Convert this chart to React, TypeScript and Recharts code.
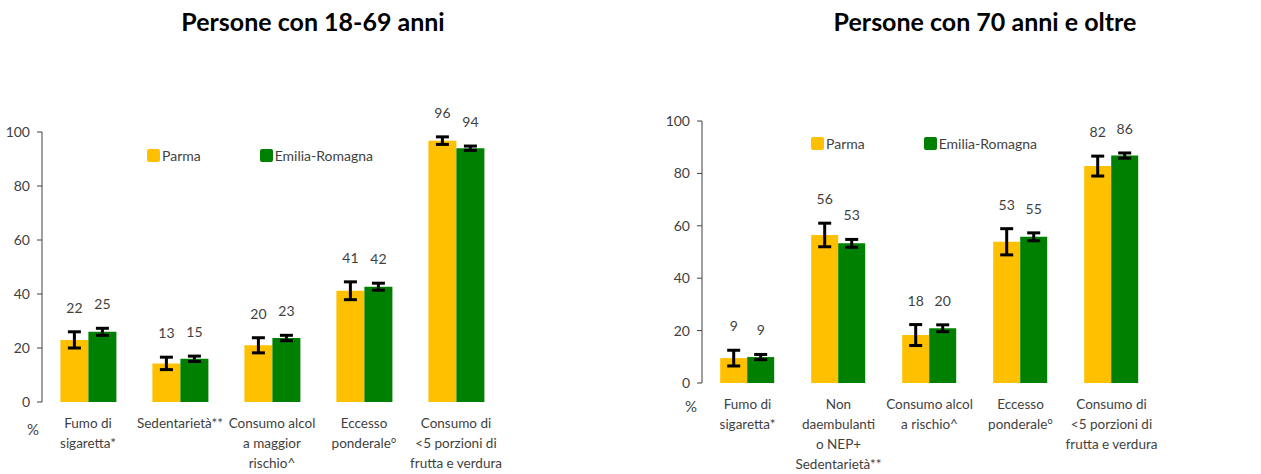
import React from 'react';
import { BarChart, Bar, XAxis, YAxis, ErrorBar, LabelList, Legend } from 'recharts';

const FONT = 'Lato, "Open Sans", sans-serif';
const TEXT = '#3f3f3f';
const PARMA_COLOR = '#FFC000';
const ER_COLOR = '#008000';

const seriesNames = ['Parma', 'Emilia-Romagna'];
const seriesColors = [PARMA_COLOR, ER_COLOR];

// Persone con 18-69 anni
const categoriesYoung = [
  'Fumo di\nsigaretta*',
  'Sedentarietà**',
  'Consumo alcol\na maggior\nrischio^',
  'Eccesso\nponderale°',
  'Consumo di\n<5 porzioni di\nfrutta e verdura',
];
const parmaYoung = [23, 14.3, 21, 41.2, 96.8];
const parmaErrYoung = [3, 2.3, 2.8, 3.3, 1.4];
const parmaLabelsYoung = [22, 13, 20, 41, 96];
const erYoung = [26, 16, 23.7, 42.7, 94];
const erErrYoung = [1.3, 1, 1, 1.3, 0.8];
const erLabelsYoung = [25, 15, 23, 42, 94];

// Persone con 70 anni e oltre
const categoriesOld = [
  'Fumo di\nsigaretta*',
  'Non\ndaembulanti\no NEP+\nSedentarietà**',
  'Consumo alcol\na rischio^',
  'Eccesso\nponderale°',
  'Consumo di\n<5 porzioni di\nfrutta e verdura',
];
const parmaOld = [9.5, 56.5, 18.3, 53.9, 82.8];
const parmaErrOld = [3, 4.5, 4, 5, 3.8];
const parmaLabelsOld = [9, 56, 18, 53, 82];
const erOld = [9.9, 53.3, 20.9, 55.8, 86.8];
const erErrOld = [1, 1.5, 1.3, 1.5, 1];
const erLabelsOld = [9, 53, 20, 55, 86];

const yTicks = [0, 20, 40, 60, 80, 100];

const buildRows = (
  cats: string[], p: number[], pe: number[], e: number[], ee: number[]
) => cats.map((name, i) => ({ name, parma: p[i], parmaErr: pe[i], er: e[i], erErr: ee[i] }));

const CategoryTick = ({ x, y, payload }: any) => {
  const lines = String(payload.value).split('\n');
  return (
    <text x={x} y={y} textAnchor="middle" fill={TEXT} fontSize={13.5} fontFamily={FONT}>
      {lines.map((l, i) => (
        <tspan key={i} x={x} dy={i === 0 ? 26 : 20}>{l}</tspan>
      ))}
    </text>
  );
};

// value label sits above the top of the error bar
const makeValueLabel = (labels: number[], errs: number[], values: number[]) => (props: any) => {
  const { x, y, width, height, index } = props;
  const perUnit = Number(height) / values[index];
  const errTop = Number(y) - errs[index] * perUnit;
  return (
    <text x={Number(x) + Number(width) / 2} y={errTop - 19} textAnchor="middle" fill={TEXT} fontSize={14} fontFamily={FONT}>
      {labels[index]}
    </text>
  );
};

const LegendContent = () => (
  <div style={{ display: 'flex', fontFamily: FONT, fontSize: 14, color: TEXT, whiteSpace: 'nowrap' }}>
    {seriesNames.map((name, i) => (
      <div key={name} style={{ display: 'flex', alignItems: 'center', width: 113 }}>
        <span style={{ width: 13, height: 13, background: seriesColors[i], borderRadius: 2, marginRight: 2 }} />
        <span>{name}</span>
      </div>
    ))}
  </div>
);

interface PanelProps {
  title: string;
  titleCenter: number;
  left: number;
  width: number;
  yAxisWidth: number;
  top: number;
  bottom: number;
  rightMargin: number;
  legendLeft: number;
  legendTop: number;
  percentX: number;
  percentY: number;
  cats: string[];
  parma: number[];
  parmaErr: number[];
  parmaLabels: number[];
  er: number[];
  erErr: number[];
  erLabels: number[];
}

const Panel = (p: PanelProps) => {
  const rows = buildRows(p.cats, p.parma, p.parmaErr, p.er, p.erErr);
  return (
    <div style={{ position: 'absolute', left: p.left, top: 0, width: p.width, height: 474 }}>
      <div style={{ position: 'absolute', left: p.titleCenter - 200, top: 6, width: 400, textAlign: 'center',
        fontFamily: FONT, fontWeight: 700, fontSize: 25, color: '#000', whiteSpace: 'nowrap' }}>
        {p.title}
      </div>
      <div style={{ position: 'absolute', left: p.percentX - 10, top: p.percentY - 10, width: 20, textAlign: 'center',
        fontFamily: FONT, fontSize: 15, color: TEXT }}>%</div>
      <BarChart
        width={p.width}
        height={474}
        data={rows}
        margin={{ top: p.top, right: p.rightMargin, bottom: 0, left: 0 }}
        barCategoryGap="20%"
        barGap={0}
      >
        <XAxis
          dataKey="name"
          axisLine={false}
          tickLine={false}
          tickSize={0}
          tickMargin={0}
          height={p.bottom}
          interval={0}
          tick={<CategoryTick />}
        />
        <YAxis
          width={p.yAxisWidth}
          domain={[0, 100]}
          ticks={yTicks}
          interval={0}
          tickSize={5}
          tickMargin={7}
          stroke="#404040"
          tick={{ fill: TEXT, fontSize: 14, fontFamily: FONT }}
        />
        <Legend
          layout="horizontal"
          verticalAlign="middle"
          align="center"
          content={<LegendContent />}
          wrapperStyle={{ left: p.legendLeft, top: p.legendTop, width: 260, height: 16 }}
        />
        <Bar dataKey="parma" name={seriesNames[0]} fill={PARMA_COLOR} isAnimationActive={false}>
          <ErrorBar dataKey="parmaErr" width={6.5} strokeWidth={3} stroke="#000" direction="y" isAnimationActive={false} />
          <LabelList dataKey="parma" content={makeValueLabel(p.parmaLabels, p.parmaErr, p.parma)} />
        </Bar>
        <Bar dataKey="er" name={seriesNames[1]} fill={ER_COLOR} isAnimationActive={false}>
          <ErrorBar dataKey="erErr" width={6.5} strokeWidth={3} stroke="#000" direction="y" isAnimationActive={false} />
          <LabelList dataKey="er" content={makeValueLabel(p.erLabels, p.erErr, p.er)} />
        </Bar>
      </BarChart>
    </div>
  );
};

export default function App() {
  return (
    <div style={{ position: 'absolute', left: 0, top: 0, width: 1261, height: 474, background: '#fff', overflow: 'hidden' }}>
      <Panel
        title="Persone con 18-69 anni"
        titleCenter={313}
        left={0}
        width={620}
        yAxisWidth={42}
        top={132}
        bottom={72}
        rightMargin={118}
        legendLeft={147}
        legendTop={147}
        percentX={33}
        percentY={430}
        cats={categoriesYoung}
        parma={parmaYoung}
        parmaErr={parmaErrYoung}
        parmaLabels={parmaLabelsYoung}
        er={erYoung}
        erErr={erErrYoung}
        erLabels={erLabelsYoung}
      />
      <Panel
        title="Persone con 70 anni e oltre"
        titleCenter={345}
        left={640}
        width={621}
        yAxisWidth={62}
        top={121}
        bottom={91}
        rightMargin={104}
        legendLeft={171}
        legendTop={135}
        percentX={51}
        percentY={407}
        cats={categoriesOld}
        parma={parmaOld}
        parmaErr={parmaErrOld}
        parmaLabels={parmaLabelsOld}
        er={erOld}
        erErr={erErrOld}
        erLabels={erLabelsOld}
      />
    </div>
  );
}
